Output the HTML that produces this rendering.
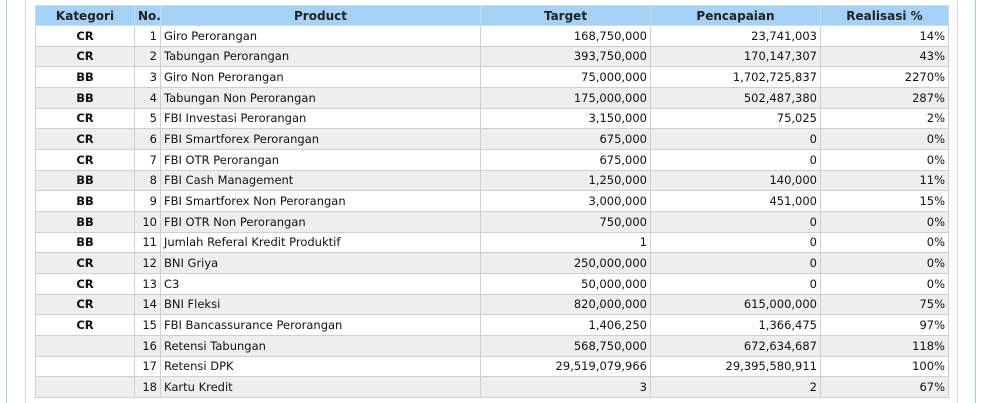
<!DOCTYPE html>
<html><head><meta charset="utf-8"><style>
html,body{margin:0;padding:0;background:#fff;width:983px;height:403px;overflow:hidden;font-family:"DejaVu Sans","Liberation Sans",sans-serif;font-size:11.5px;color:#111}
.lb{position:absolute;left:6px;top:0;width:1px;height:403px;background:#a9c9ea}
.lg{position:absolute;left:25px;top:0;width:1px;height:403px;background:#d6d6d6}
.rg{position:absolute;left:957px;top:0;width:1px;height:403px;background:#d6d6d6}
.rb{position:absolute;left:975px;top:0;width:1px;height:403px;background:#a9c9ea}
table{position:absolute;left:35px;top:5px;border-collapse:collapse;table-layout:fixed;width:913px}
td,th{border:1px solid #cfcfcf;padding:0 3px;line-height:14px;white-space:nowrap;overflow:hidden;box-sizing:border-box}
tbody tr{height:20.67px}
thead tr{height:20px}
th{background:#a6d1f9;font-weight:bold;color:#222;border-color:#c8dff3;font-size:12px}
tr:nth-child(even) td{background:#eeeeee}
.c{text-align:center;font-weight:bold}.r{text-align:right}
</style></head><body>
<div class="lb"></div>
<div class="lg"></div>
<div class="rg"></div>
<div class="rb"></div>
<table>
<colgroup><col style="width:99px"><col style="width:26px"><col style="width:320px"><col style="width:170px"><col style="width:170px"><col style="width:128px"></colgroup>
<thead><tr><th>Kategori</th><th>No.</th><th>Product</th><th>Target</th><th>Pencapaian</th><th>Realisasi %</th></tr></thead>
<tbody id="tb"></tbody></table>
<script>
const kategori=["CR","CR","BB","BB","CR","CR","CR","BB","BB","BB","BB","CR","CR","CR","CR","","",""];
const products=["Giro Perorangan","Tabungan Perorangan","Giro Non Perorangan","Tabungan Non Perorangan","FBI Investasi Perorangan","FBI Smartforex Perorangan","FBI OTR Perorangan","FBI Cash Management","FBI Smartforex Non Perorangan","FBI OTR Non Perorangan","Jumlah Referal Kredit Produktif","BNI Griya","C3","BNI Fleksi","FBI Bancassurance Perorangan","Retensi Tabungan","Retensi DPK","Kartu Kredit"];
const targets=["168,750,000","393,750,000","75,000,000","175,000,000","3,150,000","675,000","675,000","1,250,000","3,000,000","750,000","1","250,000,000","50,000,000","820,000,000","1,406,250","568,750,000","29,519,079,966","3"];
const pencapaian=["23,741,003","170,147,307","1,702,725,837","502,487,380","75,025","0","0","140,000","451,000","0","0","0","0","615,000,000","1,366,475","672,634,687","29,395,580,911","2"];
const realisasi=["14%","43%","2270%","287%","2%","0%","0%","11%","15%","0%","0%","0%","0%","75%","97%","118%","100%","67%"];
const tb=document.getElementById('tb');
for(let i=0;i<products.length;i++){
 const tr=document.createElement('tr');
 
 
 const cells=[[kategori[i],'c','kategori-cell'],[String(i+1),'r','no-cell'],[products[i],'','product-cell'],[targets[i],'r','target-cell'],[pencapaian[i],'r','pencapaian-cell'],[realisasi[i],'r','realisasi-cell']];
 for(const [t,c,n] of cells){
  const td=document.createElement('td');
  
  
  if(c)td.className=c;
  td.textContent=t;tr.appendChild(td);
 }
 tb.appendChild(tr);
}
</script>
</body></html>
